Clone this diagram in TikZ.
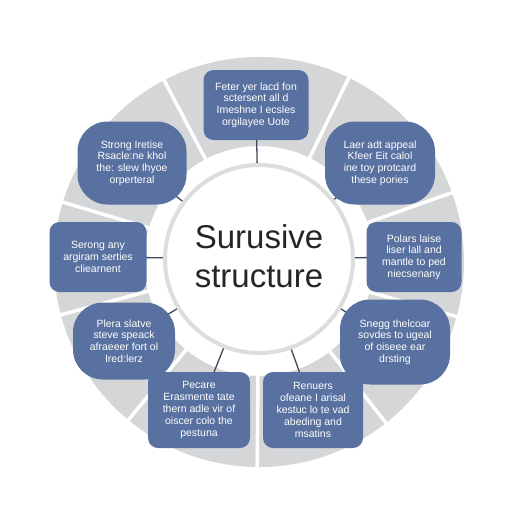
\documentclass[tikz,border=0pt]{standalone}
\usepackage{fontspec}
\setmainfont{Liberation Sans}
\usetikzlibrary{positioning, calc, backgrounds}
\definecolor{ringgray}{HTML}{D5D6D8}
\definecolor{boxblue}{HTML}{5871A0}
\definecolor{linkgray}{HTML}{3E4A5C}
\definecolor{hubline}{HTML}{DCDDDF}

\begin{document}
\begin{tikzpicture}[x=1pt,y=1pt,
    box/.style={fill=boxblue, text=white, align=center, inner sep=2pt,
      rounded corners=10pt, font=\fontsize{10.5}{11.8}\selectfont},
    blob/.style={box, rounded corners=30pt},
    link/.style={linkgray, line width=1.3pt}]
    \useasboundingbox (0,0) rectangle (512,-512);
    \node [circle, fill=white, draw=hubline, line width=4pt, minimum size=188pt] (hub) at (259,-259) {};
    \node [font=\fontsize{33}{39}\selectfont, text=black!85, align=center] at (259,-256) {Surusive\\structure};
    \node [box, minimum width=105pt, minimum height=70pt] (top) at (256,-105) {Feter yer lacd fon\\sctersent all d\\Imeshne I ecsles\\orgilayee Uote};
    \node [blob, minimum width=109pt, minimum height=83pt] (ul) at (132,-163) {Strong Iretise\\Rsacle:ne khol\\the: slew Ihyoe\\orperteral};
    \node [blob, minimum width=110pt, minimum height=83pt] (ur) at (380,-163) {Laer adt appeal\\Kfeer Eit calol\\ine toy protcard\\these pories};
    \node [box, minimum width=97pt, minimum height=70pt] (lt) at (98,-257) {Serong any\\argiram serties\\cliearnent};
    \node [box, minimum width=95pt, minimum height=70pt] (rt) at (414,-257) {Polars laise\\liser lall and\\mantle to ped\\niecsenany};
    \node [blob, minimum width=102pt, minimum height=77pt] (ll) at (124,-341) {Plera slatve\\steve speack\\afraeeer fort ol\\Ired:lerz};
    \node [blob, minimum width=110pt, minimum height=85pt] (lr) at (395,-342) {Snegg thelcoar\\sovdes to ugeal\\of oiseee ear\\drsting};
    \node [box, minimum width=102pt, minimum height=76pt] (bl) at (199,-410) {Pecare\\Erasmente tate\\thern adle vir of\\oiscer colo the\\pestuna};
    \node [box, minimum width=100pt, minimum height=76pt] (br) at (313,-410) {Renuers\\ofeane I arisal\\kestuc lo te vad\\abeding and\\msatins};
    \begin{scope}[on background layer]
      \fill [white] (0,0) rectangle (512,-512);
      \fill [ringgray, even odd rule] (259,-262) circle (205) (259,-261) circle (115);
      \foreach \a in {117.7,63.9,19.5,-15.7,-51.9,-90.5,-129.4,-164.8,163.3}
        \draw [white, line width=3.5pt, shift={(259,-261)}] (\a:112) -- (\a:209);
      \foreach \n in {top,ul,ur,lt,rt,ll,lr,bl,br}
        \draw [link] (hub.center) -- (\n.center);
    \end{scope}
\end{tikzpicture}
\end{document}
